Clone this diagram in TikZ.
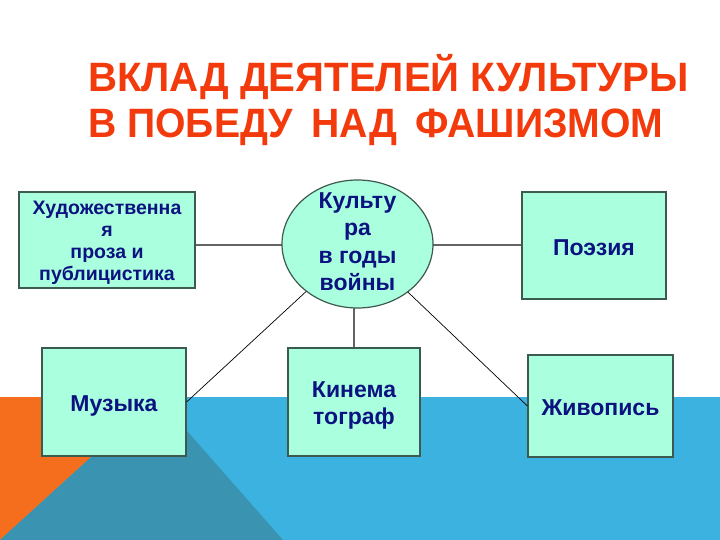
\documentclass[tikz,border=0pt]{standalone}
\usepackage{fontspec}
\setmainfont{Liberation Sans}
\usetikzlibrary{shapes.geometric}
\definecolor{bgblue}{RGB}{59,178,223}
\definecolor{bgteal}{RGB}{58,147,176}
\definecolor{bgorange}{RGB}{244,110,30}
\definecolor{titlered}{RGB}{243,58,12}
\definecolor{boxfill}{RGB}{170,255,222}
\definecolor{boxline}{RGB}{60,90,80}
\definecolor{navy}{RGB}{12,18,128}
\definecolor{connline}{RGB}{100,100,100}
\tikzset{
  box/.style={draw=boxline, line width=1.2bp, fill=boxfill, inner sep=0pt},
  boxtext/.style={text=navy, align=center, inner sep=0pt, text depth=0pt,
    font=\fontsize{23bp}{27.5bp}\selectfont\bfseries},
  conn/.style={draw=connline, line width=1.3bp},
  diag/.style={draw=black, line width=0.7bp},
  titletext/.style={text=titlered, inner sep=0pt, anchor=base west,
    font=\fontsize{41bp}{48bp}\selectfont\bfseries}
}
\begin{document}
\begin{tikzpicture}[x=1bp,y=-1bp]
\useasboundingbox (0,0) rectangle (720,540);
\fill[white] (0,0) rectangle (720,540);
% background bands
\fill[bgblue] (0,397) rectangle (720,540);
\fill[bgorange] (0,397) -- (157,397) -- (0,540) -- cycle;
\fill[bgteal] (157,397) -- (283,540) -- (0,540) -- cycle;
% title
\node[titletext] (t1) at (88,92) {\scalebox{0.98}[1]{ВКЛАД ДЕЯТЕЛЕЙ КУЛЬТУРЫ}};
\node[titletext] (t2) at (88,138) {\scalebox{0.955}[1]{В ПОБЕДУ\hspace{19bp}НАД\hspace{19bp}ФАШИЗМОМ}};
% nodes
\node[box, minimum width=176bp, minimum height=96bp,
  label={[boxtext, yshift=-1bp, font=\fontsize{19.5bp}{22bp}\selectfont\bfseries]center:Художественна\\я\\проза и\\публицистика}] (lit) at (107,240) {};
\node[box, minimum width=144bp, minimum height=107bp,
  label={[boxtext, yshift=-2.5bp]center:Поэзия}] (poe) at (594,245.5) {};
\node[box, minimum width=144bp, minimum height=108bp,
  label={[boxtext, yshift=-1.5bp]center:Музыка}] (mus) at (114,402) {};
\node[box, minimum width=132bp, minimum height=108bp,
  label={[boxtext, yshift=-1bp]center:Кинема\\тограф}] (kino) at (354,402) {};
\node[box, minimum width=145bp, minimum height=102bp,
  label={[boxtext, yshift=-2bp]center:Живопись}] (zhiv) at (600.5,406) {};
% connectors
\draw[conn] (lit.east |- 0,245) -- (357.5,245);
\draw[conn] (357.5,245) -- (poe.west |- 0,245);
\draw[conn] (kino.north) -- (kino.north |- 0,300);
\draw[diag] (357.5,244) -- (mus.east);
\draw[diag] (357.5,244) -- (zhiv.west);
% central ellipse on top of connector starts
\node[ellipse, draw=boxline, line width=1.2bp, fill=boxfill, inner sep=0pt,
  minimum width=151bp, minimum height=128bp] (circ) at (357.5,244) {};
\node[boxtext, text depth=, align=center] (circtext) at (357.5,241.5)
  {Культу\\ра\\в годы\\войны};
\end{tikzpicture}
\end{document}
